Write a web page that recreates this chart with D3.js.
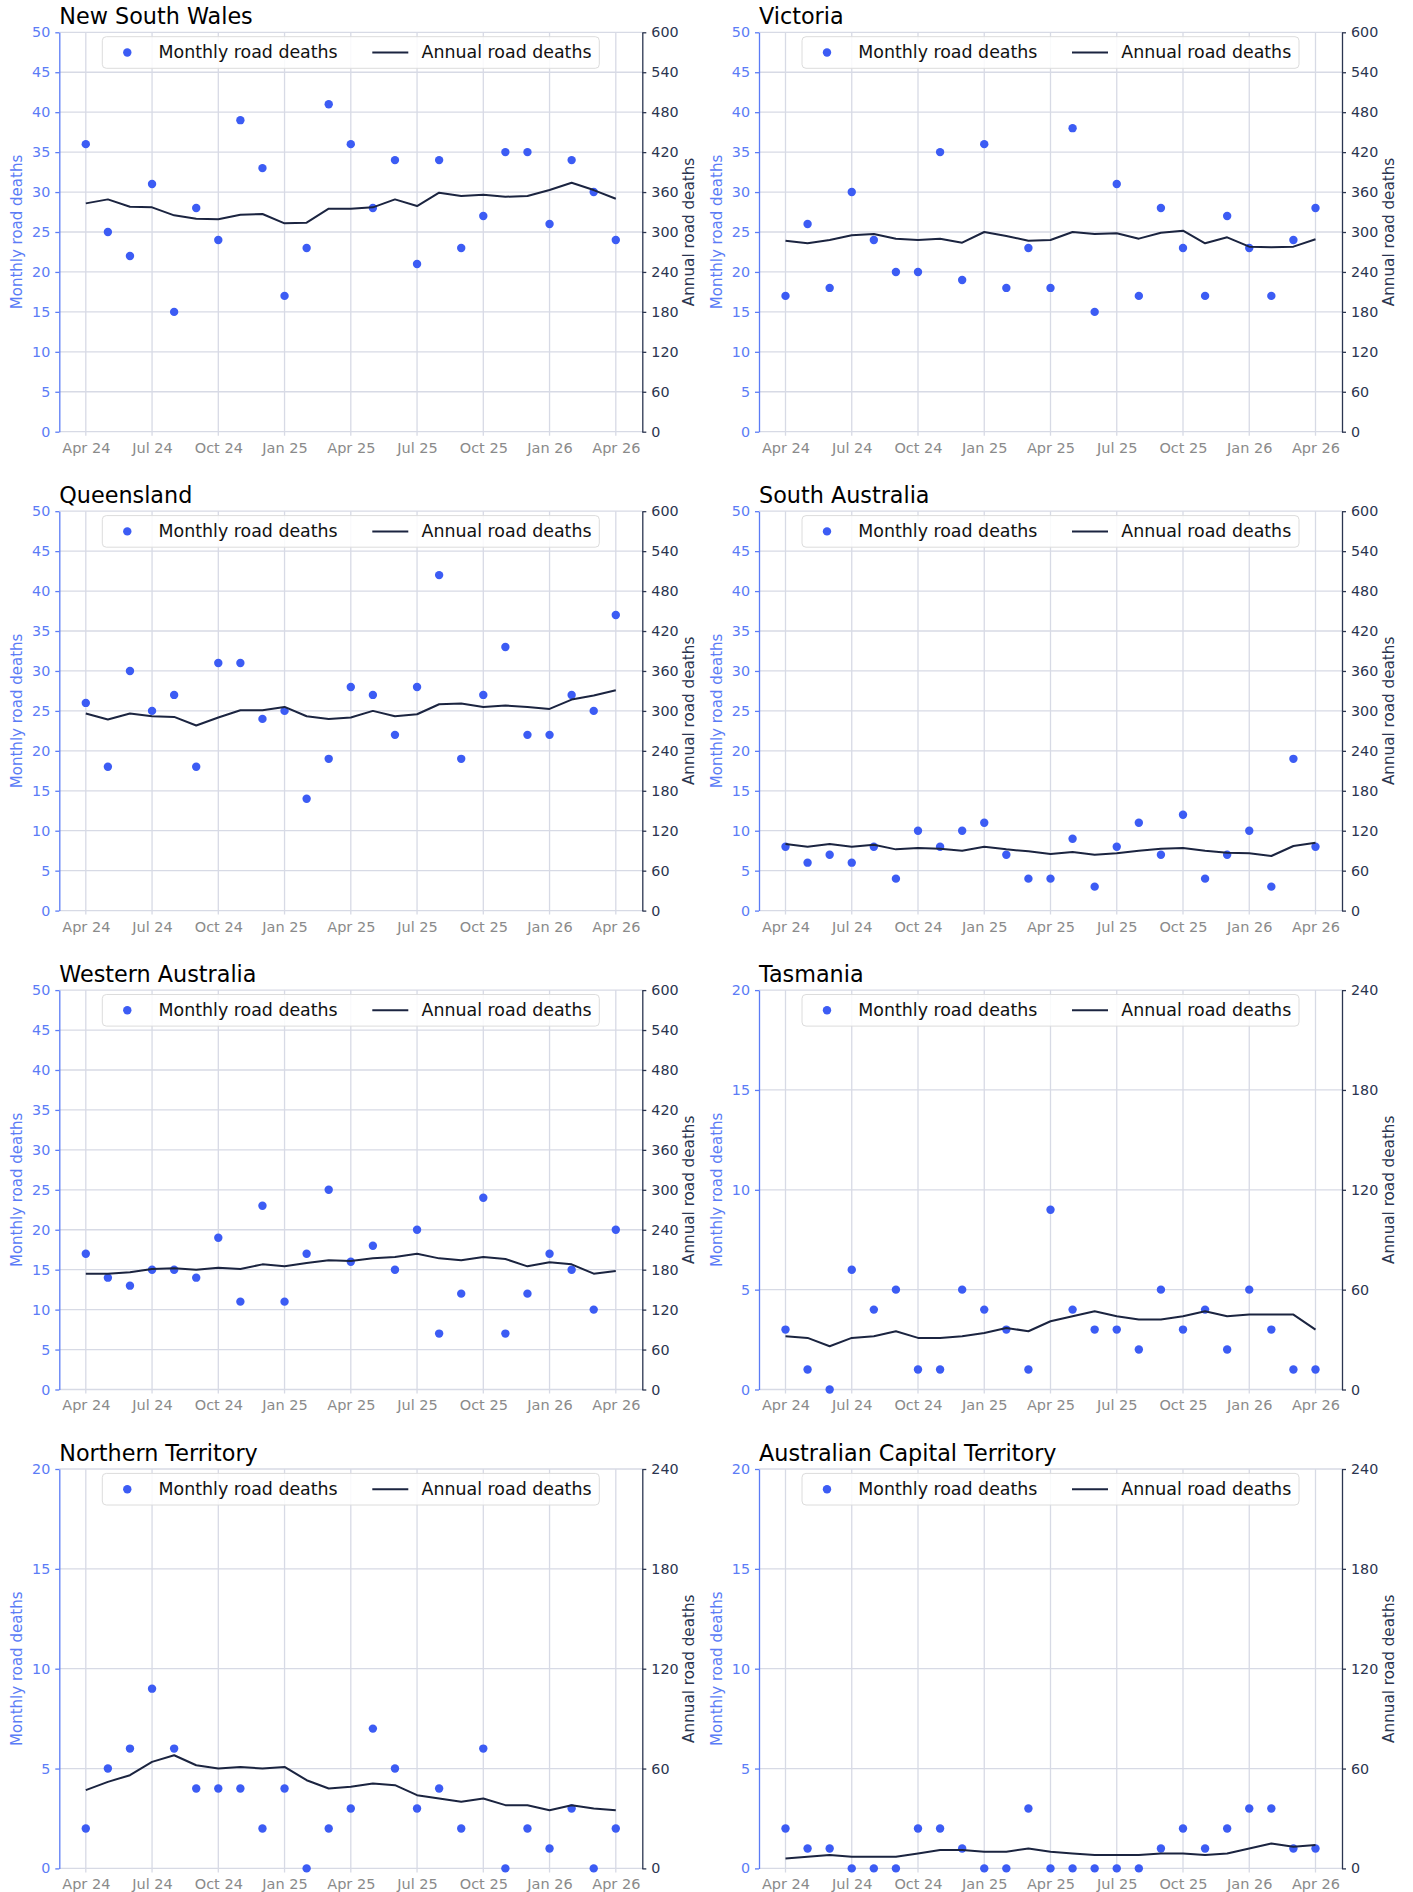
<!DOCTYPE html>
<html><head><meta charset="utf-8">
<script src="https://cdn.jsdelivr.net/npm/d3@7"></script>
<style>
html,body{margin:0;padding:0;background:#fff;}
svg{display:block;font-family:"DejaVu Sans",sans-serif;}
</style></head>
<body><svg id="c" width="1413" height="1892"></svg>
<script>
const months = ["Apr 24","May 24","Jun 24","Jul 24","Aug 24","Sep 24","Oct 24","Nov 24","Dec 24",
  "Jan 25","Feb 25","Mar 25","Apr 25","May 25","Jun 25","Jul 25","Aug 25","Sep 25","Oct 25","Nov 25","Dec 25",
  "Jan 26","Feb 26","Mar 26","Apr 26"];
const tickMonths = ["Apr 24","Jul 24","Oct 24","Jan 25","Apr 25","Jul 25","Oct 25","Jan 26","Apr 26"];
const states = ["New South Wales","Victoria","Queensland","South Australia","Western Australia","Tasmania","Northern Territory","Australian Capital Territory"];

const nswMonthly = [36,25,22,31,15,28,24,39,33,17,23,41,36,28,34,21,34,23,27,35,35,26,34,30,24];
const nswAnnual  = [343,349,338,337,325,320,319,326,327,313,314,335,335,337,349,339,359,354,356,353,354,363,374,363,350];
const vicMonthly = [17,26,18,30,24,20,20,35,19,36,18,23,18,38,15,31,17,28,23,17,27,23,17,24,28];
const vicAnnual  = [287,283,288,295,297,290,288,290,284,300,294,287,288,300,297,298,290,299,302,283,292,278,277,278,289];
const qldMonthly = [26,18,30,25,27,18,31,31,24,25,14,19,28,27,22,28,42,19,27,33,22,22,27,25,37];
const qldAnnual  = [296,287,296,292,291,278,290,301,301,306,292,288,290,300,292,295,310,311,306,308,306,303,317,323,331];
const saMonthly  = [8,6,7,6,8,4,10,8,10,11,7,4,4,9,3,8,11,7,12,4,7,10,3,19,8];
const saAnnual   = [100,96,100,96,99,92,94,93,90,96,92,89,85,88,84,86,90,93,94,90,87,86,82,97,102];
const waMonthly  = [17,14,13,15,15,14,19,11,23,11,17,25,16,18,15,20,7,12,24,7,12,17,15,10,20];
const waAnnual   = [174,174,176,181,182,180,183,181,188,185,190,194,193,197,199,204,197,194,199,196,185,191,188,174,178];
const tasMonthly = [3,1,0,6,4,5,1,1,5,4,3,1,9,4,3,3,2,5,3,4,2,5,3,1,1];
const tasAnnual  = [32,31,26,31,32,35,31,31,32,34,37,35,41,44,47,44,42,42,44,47,44,45,45,45,36];
const ntMonthly  = [2,5,6,9,6,4,4,4,2,4,0,2,3,7,5,3,4,2,6,0,2,1,3,0,2];
const ntAnnual   = [47,52,56,64,68,62,60,61,60,61,53,48,49,51,50,44,42,40,42,38,38,35,38,36,35];
const actMonthly = [2,1,1,0,0,0,2,2,1,0,0,3,0,0,0,0,0,1,2,1,2,3,3,1,1];
const actAnnual  = [6,7,8,7,7,7,9,11,11,10,10,12,10,9,8,8,8,9,9,8,9,12,15,13,14];
const monthlyMax = [50,50,50,50,50,20,20,20];

const monthlySeries = [nswMonthly,vicMonthly,qldMonthly,saMonthly,waMonthly,tasMonthly,ntMonthly,actMonthly];
const annualSeries  = [nswAnnual,vicAnnual,qldAnnual,saAnnual,waAnnual,tasAnnual,ntAnnual,actAnnual];

const C = {dot:"#3c5cf4", left:"#5b7cf6", right:"#2b3550", line:"#1b2440", grid:"#d7dae5", xt:"#8a8a8a"};
const svg = d3.select("#c");
const colLeft = [59.3, 759], plotW = 583, plotH = 399.4, rowTop0 = 32.3, rowPitch = 478.9;

states.forEach((name, i) => {
  const col = i % 2, row = Math.floor(i / 2);
  const L = colLeft[col], T = rowTop0 + row * rowPitch;
  const g = svg.append("g").attr("transform", `translate(${L},${T})`);
  const x = d3.scaleLinear().domain([-1.2, months.length - 1 + 1.2]).range([0, plotW]);
  const yMax = monthlyMax[i];
  const y = d3.scaleLinear().domain([0, yMax]).range([plotH, 0]);
  const y2 = d3.scaleLinear().domain([0, yMax * 12]).range([plotH, 0]);
  const tickIdx = tickMonths.map(t => months.indexOf(t));
  const yTicks = d3.range(0, yMax + 0.001, 5);
  const y2Ticks = yTicks.map(v => v * 12);

  // grid
  g.append("g").selectAll("line").data(tickIdx).join("line")
    .attr("x1", d => x(d)).attr("x2", d => x(d)).attr("y1", 0).attr("y2", plotH + 4)
    .attr("stroke", C.grid).attr("stroke-width", 1.3);
  g.append("g").selectAll("line").data(yTicks).join("line")
    .attr("x1", 0).attr("x2", plotW).attr("y1", d => y(d)).attr("y2", d => y(d))
    .attr("stroke", C.grid).attr("stroke-width", 1.3);

  // x axis labels
  const xa = g.append("g").attr("transform", `translate(0,${plotH})`)
    .call(d3.axisBottom(x).tickValues(tickIdx).tickFormat(d => months[d]).tickSize(0).tickPadding(10.7));
  xa.select(".domain").remove();
  xa.selectAll("text").attr("fill", C.xt).attr("font-size", 14.5).attr("font-family", "DejaVu Sans");

  // left axis
  const la = g.append("g").call(d3.axisLeft(y).tickValues(yTicks).tickSize(4).tickPadding(5).tickSizeOuter(0));
  la.select(".domain").attr("stroke", C.left).attr("stroke-width", 1.3);
  la.selectAll(".tick line").attr("stroke", C.left).attr("stroke-width", 1.3);
  la.selectAll("text").attr("fill", C.left).attr("font-size", 14.3).attr("font-family", "DejaVu Sans");

  // right axis
  const ra = g.append("g").attr("transform", `translate(${plotW},0)`)
    .call(d3.axisRight(y2).tickValues(y2Ticks).tickSize(4).tickPadding(5).tickSizeOuter(0));
  ra.select(".domain").attr("stroke", C.right).attr("stroke-width", 1.3);
  ra.selectAll(".tick line").attr("stroke", C.right).attr("stroke-width", 1.3);
  ra.selectAll("text").attr("fill", C.right).attr("font-size", 14.3).attr("font-family", "DejaVu Sans");

  // axis labels
  g.append("text").attr("transform", `translate(${-42},${plotH / 2}) rotate(-90)`)
    .attr("text-anchor", "middle").attr("dominant-baseline", "central")
    .attr("fill", C.left).attr("font-size", 15).text("Monthly road deaths");
  g.append("text").attr("transform", `translate(${plotW + 47},${plotH / 2}) rotate(-90)`)
    .attr("text-anchor", "middle").attr("dominant-baseline", "central")
    .attr("fill", C.right).attr("font-size", 15.2).text("Annual road deaths");

  // title
  g.append("text").attr("x", 0).attr("y", -8.3).attr("font-size", 22.3).attr("fill", "#000").text(name);

  // dots
  g.append("g").selectAll("circle").data(monthlySeries[i]).join("circle")
    .attr("cx", (d, k) => x(k)).attr("cy", d => y(d)).attr("r", 4.2).attr("fill", C.dot);

  // annual line
  const line = d3.line().x((d, k) => x(k)).y(d => y2(d));
  g.append("path").datum(annualSeries[i]).attr("d", line)
    .attr("fill", "none").attr("stroke", C.line).attr("stroke-width", 2).attr("stroke-linejoin", "round");

  // legend
  const lg = g.append("g").attr("transform", `translate(${plotW / 2 - 248.5},4.4)`);
  lg.append("rect").attr("width", 497).attr("height", 31.6).attr("rx", 4)
    .attr("fill", "rgba(255,255,255,0.85)").attr("stroke", "#dcdcdc").attr("stroke-width", 1);
  lg.append("circle").attr("cx", 25).attr("cy", 15.8).attr("r", 4.2).attr("fill", C.dot);
  lg.append("text").attr("x", 56.3).attr("y", 15.8).attr("dominant-baseline", "central")
    .attr("font-size", 17.4).attr("fill", "#111").text("Monthly road deaths");
  lg.append("line").attr("x1", 270).attr("x2", 306).attr("y1", 15.8).attr("y2", 15.8)
    .attr("stroke", C.line).attr("stroke-width", 2);
  lg.append("text").attr("x", 319.3).attr("y", 15.8).attr("dominant-baseline", "central")
    .attr("font-size", 17.4).attr("fill", "#111").text("Annual road deaths");
});
</script></body></html>
